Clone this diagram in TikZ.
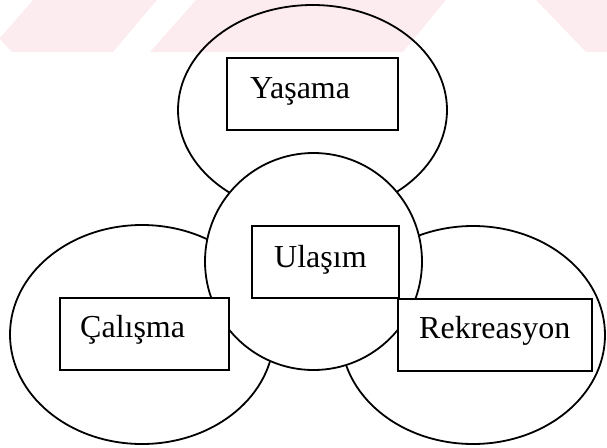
\documentclass[tikz,border=0pt]{standalone}
\usepackage{fontspec}
\setmainfont{Liberation Serif}
\usetikzlibrary{shapes.geometric}
\definecolor{wmpink}{RGB}{253,236,239}
\begin{document}
\begin{tikzpicture}[x=1pt,y=-1pt,
  zone/.style={draw=black, ellipse, line width=1.8pt, inner sep=0pt, outer sep=0pt},
  hub/.style={zone, fill=white},
  box/.style={draw=black, rectangle, line width=1.8pt, fill=white, inner sep=0pt, minimum height=72pt},
  lbl/.style={anchor=base west, inner sep=0pt, font=\fontsize{32}{38}\selectfont},
  wm/.style={fill=wmpink, draw=none}]
\useasboundingbox (0,0) rectangle (607,447);
% faint watermark band
\fill[wm] (33,0) -- (157,0) -- (113,52) -- (12,52) -- (0,39) -- (0,38) -- cycle;
\fill[wm] (196,0) -- (446,0) -- (403,52) -- (150,52) -- cycle;
\fill[wm] (536,0) -- (607,0) -- (607,52) -- (586,52) -- cycle;
% outer zones
\node[zone, minimum width=269pt, minimum height=210pt] (zY) at (312.5,110) {};
\node[zone, minimum width=264pt, minimum height=219pt] (zC) at (142,334.5) {};
\node[zone, minimum width=264pt, minimum height=218pt] (zR) at (473,335) {};
% central zone
\node[hub, minimum width=217pt, minimum height=217pt] (zU) at (313.5,261.5) {};
% boxes
\node[box, minimum width=171pt] (bY) at (312.5,94) {};
\node[box, minimum width=147pt] (bU) at (325.5,262) {};
\node[box, minimum width=169pt] (bC) at (144.5,334) {};
\node[box, minimum width=194pt] (bR) at (495,335) {};
% labels
\node[lbl] (tY) at (250,98) {Yaşama};
\node[lbl] (tU) at (274,267) {Ulaşım};
\node[lbl] (tC) at (80,337.5) {Çalışma};
\node[lbl] (tR) at (419,338) {Rekreasyon};
\end{tikzpicture}
\end{document}
